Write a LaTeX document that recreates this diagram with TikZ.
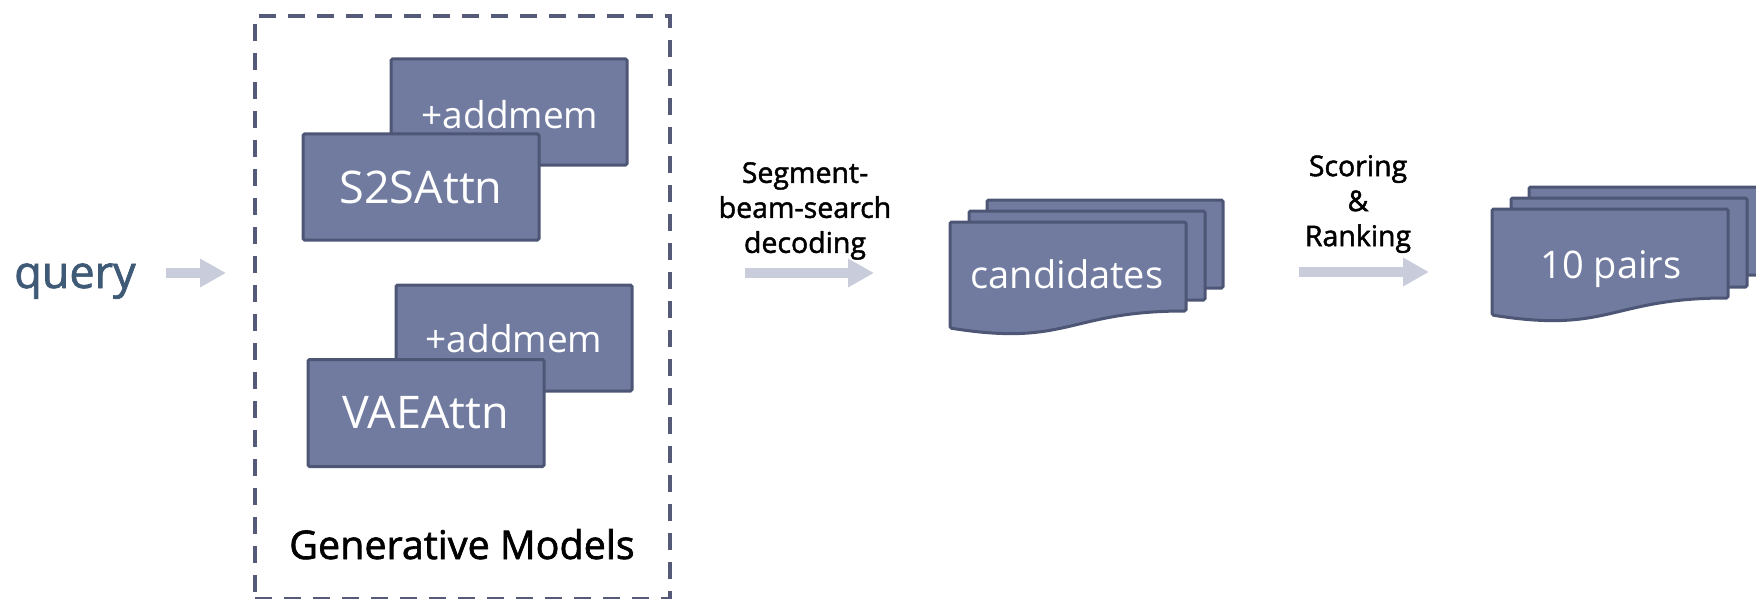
\documentclass[tikz,border=0pt]{standalone}
\usepackage{fontspec}
\setmainfont{Open Sans}
\newfontfamily\lblfont[FakeBold=1.6]{Open Sans}
\usetikzlibrary{arrows.meta}
\definecolor{boxfill}{HTML}{717BA0}
\definecolor{boxline}{HTML}{4E5675}
\definecolor{arrowc}{HTML}{C8CCDB}
\definecolor{dashc}{HTML}{555A78}
\definecolor{queryc}{HTML}{3E5A76}
\begin{document}
\begin{tikzpicture}[x=1pt,y=-1pt,
  mbox/.style={draw=boxline, fill=boxfill, line width=3pt, rounded corners=1.5pt,
    inner sep=0pt, minimum width=236pt, minimum height=106pt, text=white,
    font=\fontsize{45}{54}\selectfont},
  memtext/.style={anchor=base, inner sep=0pt, text=white, font=\fontsize{37}{44}\selectfont},
  docpage/.style={draw=boxline, fill=boxfill, line width=3pt, rounded corners=1.5pt},
  doctext/.style={anchor=base, inner sep=0pt, text=white, font=\fontsize{38}{46}\selectfont},
  lbl/.style={anchor=north, inner sep=0pt, align=center, text=black, font=\lblfont\fontsize{28.5}{35}\selectfont},
  flow/.style={draw=arrowc, line width=10pt, -{Triangle[length=26pt,width=27pt]}},
  dashbox/.style={draw=dashc, line width=4pt, dash pattern=on 17pt off 12pt, inner sep=0pt,
    minimum width=415pt, minimum height=583pt},
  multidoc/.pic={
    \path[docpage] (37,-22) rectangle (273,66);
    \path[docpage] (19,-11) rectangle (255,78);
    \path[docpage] (0,0) -- (236,0) -- (236,89) .. controls (118,89) and (118,125) .. (0,106) -- cycle;
  }]
\useasboundingbox (0,0) rectangle (1756,599);
\clip (0,0) rectangle (1756,599);

% query
\node[anchor=base, inner sep=0pt, text=queryc, font=\lblfont\fontsize{45}{54}\selectfont] (query) at (75,288) {query};
\coordinate (qa1) at (166,273);
\coordinate (qa2) at (226,273);
\draw[flow] (qa1) -- (qa2);

% generative models box
\node[dashbox] (gen) at (462.5,307.5) {};
\node[mbox] (mem1) at (509,112) {};
\node[memtext] (mem1t) at (510,129) {+addmem};
\node[mbox] (s2s) at (421,187) {S2SAttn};
\node[mbox] (mem2) at (514,338) {};
\node[memtext] (mem2t) at (514,352) {+addmem};
\node[mbox, minimum height=107pt] (vae) at (426,413) {VAEAttn};
\node[anchor=base, inner sep=0pt, font=\lblfont\fontsize{39.5}{46}\selectfont] (genlbl) at (462,559) {Generative Models};

% decoding
\node[lbl] (declbl) at (805,162) {Segment-\\beam-search\\decoding};
\coordinate (da1) at (745,273);
\coordinate (da2) at (874,273);
\draw[flow] (da1) -- (da2);

% candidates
\pic at (950,222) {multidoc};
\node[doctext] (cand) at (1067,288) {candidates};

% scoring
\node[lbl] (scorelbl) at (1358,155) {Scoring\\\&\\Ranking};
\coordinate (sa1) at (1299,272);
\coordinate (sa2) at (1429,272);
\draw[flow] (sa1) -- (sa2);

% 10 pairs
\pic at (1492,209) {multidoc};
\node[doctext] (pairs) at (1611,278) {10 pairs};
\end{tikzpicture}
\end{document}
